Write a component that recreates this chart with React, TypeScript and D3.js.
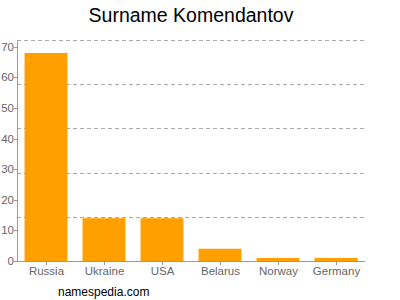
import React from "react";
import * as d3 from "d3";

const categories = ["Russia", "Ukraine", "USA", "Belarus", "Norway", "Germany"];
const values = [68, 14, 14, 4, 1, 1];
const yTicks = [0, 10, 20, 30, 40, 50, 60, 70];
const gridValues = [14.45, 28.9, 43.35, 57.8, 72.25];
const title = "Surname Komendantov";
const footer = "namespedia.com";

export default function App() {
  const W = 400, H = 300;
  const left = 17, right = 365, top = 40, bottom = 261;
  const x = d3.scaleBand<string>().domain(categories).range([left, right]).paddingInner(0.26).paddingOuter(0.13);
  const y = d3.scaleLinear().domain([0, 72.25]).range([bottom, top]);
  const font = "Liberation Sans, Arial, sans-serif";
  return (
    <svg width={W} height={H} style={{ position: "absolute", left: 0, top: 0 }} fontFamily={font}>
      <rect width={W} height={H} fill="#fff" />
      <text x={191} y={22} textAnchor="middle" fontSize={19.5} fill="#000">{title}</text>
      {gridValues.map((g, i) => (
        <line key={i} x1={left} x2={right} y1={Math.round(y(g)) + 0.5} y2={Math.round(y(g)) + 0.5} stroke="#aaa" strokeDasharray="4,3" strokeWidth={1} />
      ))}
      {categories.map((c, i) => (
        <rect key={c} x={x(c)} y={y(values[i])} width={x.bandwidth()} height={bottom - y(values[i])} fill="#ffa000" />
      ))}
      <line x1={left + 0.5} x2={left + 0.5} y1={top} y2={bottom} stroke="#999" />
      <line x1={left} x2={right} y1={bottom + 0.5} y2={bottom + 0.5} stroke="#999" />
      {yTicks.map((t) => (
        <g key={t}>
          <line x1={left - 3} x2={left} y1={Math.round(y(t)) + 0.5} y2={Math.round(y(t)) + 0.5} stroke="#999" />
          <text x={left - 3} y={y(t) + 4} textAnchor="end" fontSize={11.5} fill="#666">{t}</text>
        </g>
      ))}
      {categories.map((c) => {
        const cx = Math.round((x(c) as number) + x.bandwidth() / 2) + 0.5;
        return (
          <g key={c}>
            <line x1={cx} x2={cx} y1={bottom} y2={bottom + 4} stroke="#999" />
            <text x={cx} y={bottom + 14} textAnchor="middle" fontSize={11.5} fill="#666">{c}</text>
          </g>
        );
      })}
      <text x={58} y={296} fontSize={12} fill="#000">{footer}</text>
    </svg>
  );
}
